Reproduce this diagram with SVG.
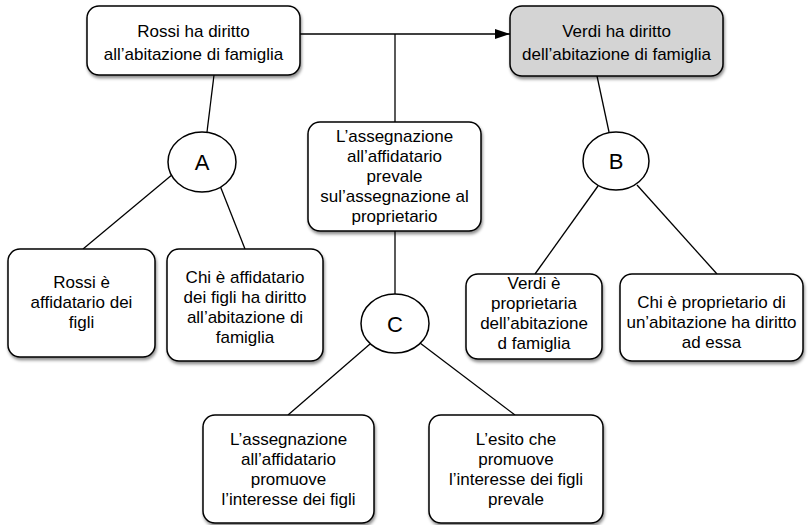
<svg xmlns="http://www.w3.org/2000/svg" width="810" height="525" viewBox="0 0 810 525">
  <defs>
    <filter id="shadow" x="-10%" y="-10%" width="125%" height="130%">
      <feDropShadow dx="1" dy="2.5" stdDeviation="1.5" flood-color="#000" flood-opacity="0.45"/>
    </filter>
    <marker id="arrow" markerWidth="15" markerHeight="10" refX="15" refY="5" orient="auto" markerUnits="userSpaceOnUse">
      <path d="M0,0 L15,5 L0,10 Z" fill="#000"/>
    </marker>
  </defs>
  <style>
    .box { fill: #fff; stroke: #000; stroke-width: 1.5; filter: url(#shadow); }
    .grey { fill: #d4d4d4; }
    .circ { fill: #fff; stroke: #000; stroke-width: 1.5; }
    .edge { stroke: #000; stroke-width: 1.3; fill: none; }
    text { font-family: "Liberation Sans", Arial, Helvetica, sans-serif; font-size: 17px; fill: #000; text-anchor: middle; }
    .big { font-size: 22px; }
  </style>
  <rect width="810" height="525" fill="#fff"/>

  <g id="connectors">
    <line class="edge" x1="300" y1="34" x2="510" y2="34" marker-end="url(#arrow)"/>
    <line class="edge" x1="395" y1="34" x2="395" y2="122"/>
    <line class="edge" x1="395" y1="231" x2="395" y2="294"/>
    <line class="edge" x1="214" y1="75" x2="207" y2="132"/>
    <line class="edge" x1="173" y1="174" x2="83" y2="249"/>
    <line class="edge" x1="217" y1="178" x2="245" y2="249"/>
    <line class="edge" x1="597" y1="76" x2="609" y2="132"/>
    <line class="edge" x1="598" y1="186" x2="535" y2="274"/>
    <line class="edge" x1="637" y1="185" x2="717" y2="274"/>
    <line class="edge" x1="370" y1="344" x2="288" y2="415"/>
    <line class="edge" x1="420" y1="343" x2="515" y2="415"/>
  </g>

  <g id="rossi-diritto">
    <rect class="box" x="87" y="6" width="213" height="69" rx="12"/>
    <text x="193.5" y="37">Rossi ha diritto</text>
    <text x="193.5" y="60">all’abitazione di famiglia</text>
  </g>

  <g id="verdi-diritto">
    <rect class="box grey" x="510" y="6" width="213" height="70" rx="12"/>
    <text x="616.5" y="37">Verdi ha diritto</text>
    <text x="616.5" y="60">dell’abitazione di famiglia</text>
  </g>

  <g id="assegnazione-prevale">
    <rect class="box" x="308" y="122" width="173" height="109" rx="12"/>
    <text x="394.5" y="142">L’assegnazione</text>
    <text x="394.5" y="162">all’affidatario</text>
    <text x="394.5" y="182">prevale</text>
    <text x="394.5" y="202">sul’assegnazione al</text>
    <text x="394.5" y="222">proprietario</text>
  </g>

  <g id="A">
    <ellipse class="circ" cx="202" cy="162" rx="34" ry="30"/>
    <text class="big" x="202" y="170">A</text>
  </g>

  <g id="B">
    <ellipse class="circ" cx="616" cy="161" rx="33" ry="29"/>
    <text class="big" x="616" y="169">B</text>
  </g>

  <g id="C">
    <ellipse class="circ" cx="395" cy="323.5" rx="34" ry="29.5"/>
    <text class="big" x="395" y="331.5">C</text>
  </g>

  <g id="rossi-affidatario">
    <rect class="box" x="8" y="249" width="147" height="108" rx="12"/>
    <text x="81.5" y="288">Rossi è</text>
    <text x="81.5" y="308">affidatario dei</text>
    <text x="81.5" y="328">figli</text>
  </g>

  <g id="affidatario-diritto">
    <rect class="box" x="167" y="249" width="156" height="112" rx="12"/>
    <text x="245" y="283">Chi è affidatario</text>
    <text x="245" y="303">dei figli ha diritto</text>
    <text x="245" y="323">all’abitazione di</text>
    <text x="245" y="343">famiglia</text>
  </g>

  <g id="verdi-proprietaria">
    <rect class="box" x="466" y="274" width="136" height="85" rx="12"/>
    <text x="534" y="289">Verdi è</text>
    <text x="534" y="309">proprietaria</text>
    <text x="534" y="329">dell’abitazione</text>
    <text x="534" y="349">d famiglia</text>
  </g>

  <g id="proprietario-diritto">
    <rect class="box" x="620" y="274" width="183" height="87" rx="12"/>
    <text x="711.5" y="308">Chi è proprietario di</text>
    <text x="711.5" y="328">un’abitazione ha diritto</text>
    <text x="711.5" y="348">ad essa</text>
  </g>

  <g id="assegnazione-promuove">
    <rect class="box" x="203" y="415" width="171" height="108" rx="12"/>
    <text x="288.5" y="445">L’assegnazione</text>
    <text x="288.5" y="465">all’affidatario</text>
    <text x="288.5" y="485">promuove</text>
    <text x="288.5" y="505">l’interesse dei figli</text>
  </g>

  <g id="esito-prevale">
    <rect class="box" x="429" y="415" width="174" height="108" rx="12"/>
    <text x="516" y="445">L’esito che</text>
    <text x="516" y="465">promuove</text>
    <text x="516" y="485">l’interesse dei figli</text>
    <text x="516" y="505">prevale</text>
  </g>
</svg>
